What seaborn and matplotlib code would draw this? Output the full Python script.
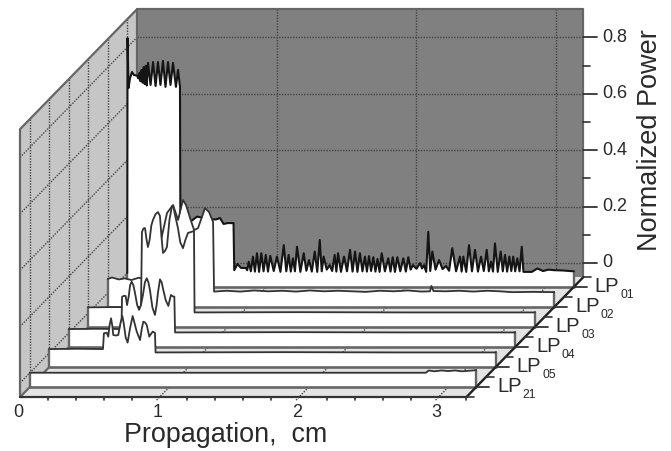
"""Waterfall chart of normalized mode power along the propagation length."""

import matplotlib
matplotlib.use("Agg")
import matplotlib.pyplot as plt
import numpy as np
import pandas as pd
import seaborn as sns

sns.set_style("white")
plt.rcParams["font.family"] = ["Liberation Sans", "DejaVu Sans"]

# data, back row first
modes = ["01", "02", "03", "04", "05", "21"]
mode_depths = [5.5, 4.5, 3.5, 2.5, 1.5, 0.5]

lp01_cm = [0.0, 0.002, 0.009, 0.02, 0.034, 0.048, 0.07, 0.08, 0.088, 0.095, 0.103, 0.11, 0.118,
           0.125, 0.133, 0.14,
           0.149, 0.167, 0.185, 0.203, 0.22, 0.238, 0.256, 0.274, 0.292, 0.31,
           0.328, 0.349, 0.364, 0.378, 0.381, 0.42, 0.5, 0.6, 0.636, 0.665, 0.69, 0.72, 0.762,
           0.767, 0.79, 0.815, 0.85, 0.86,
           0.871, 0.886, 0.901, 0.915, 0.93, 0.945, 0.961, 0.977, 0.993, 1.009, 1.025, 1.05,
           1.073, 1.098, 1.122, 1.14, 1.157, 1.172, 1.188, 1.202, 1.217, 1.241, 1.265, 1.284,
           1.303, 1.323, 1.344, 1.362, 1.38, 1.394, 1.408, 1.43, 1.451, 1.469, 1.487, 1.499,
           1.511, 1.532, 1.554, 1.575, 1.597, 1.615, 1.633, 1.65, 1.668, 1.686, 1.704, 1.718,
           1.733, 1.748, 1.764, 1.779, 1.794, 1.809, 1.824, 1.847, 1.871, 1.887, 1.903, 1.919,
           1.936, 1.957, 1.979, 1.997, 2.015, 2.031, 2.048, 2.073, 2.099, 2.113, 2.127, 2.143,
           2.158, 2.172, 2.187, 2.21, 2.235, 2.26, 2.285, 2.307, 2.33, 2.357, 2.385, 2.397,
           2.409, 2.43, 2.45, 2.471, 2.493, 2.514, 2.536, 2.556, 2.577, 2.592, 2.608, 2.622,
           2.636, 2.656, 2.677, 2.692, 2.708, 2.723, 2.739, 2.753, 2.767, 2.781, 2.796, 2.812,
           2.828, 2.84, 2.9, 2.94, 2.98, 3.02, 3.06, 3.12, 3.2]
lp01_pw = [0.0, 0.833, 0.656, 0.691, 0.713, 0.702, 0.7, 0.69, 0.71, 0.68, 0.72, 0.675, 0.73,
           0.67, 0.735, 0.665,
           0.745, 0.667, 0.748, 0.663, 0.748, 0.667, 0.752, 0.66, 0.748, 0.667,
           0.745, 0.66, 0.72, 0.66, 0.15, 0.17, 0.2, 0.19, 0.19, 0.195, 0.174, 0.177, 0.177,
           0.01, 0.032, 0.018, 0.018, 0.01,
           0.04, 0.006, 0.058, 0.005, 0.07, 0.004, 0.07, 0.006, 0.064, 0.005, 0.061, 0.007,
           0.058, 0.004, 0.099, 0.006, 0.064, 0.005, 0.052, 0.006, 0.093, 0.004, 0.07, 0.008,
           0.046, 0.005, 0.076, 0.004, 0.117, 0.006, 0.058, 0.012, 0.028, 0.007, 0.064, 0.005,
           0.07, 0.004, 0.058, 0.006, 0.082, 0.005, 0.076, 0.004, 0.07, 0.006, 0.058, 0.005,
           0.06, 0.007, 0.056, 0.005, 0.05, 0.004, 0.07, 0.006, 0.052, 0.005, 0.056, 0.004,
           0.056, 0.006, 0.052, 0.005, 0.056, 0.012, 0.028, 0.015, 0.035, 0.016, 0.028, 0.004,
           0.146, 0.007, 0.076, 0.012, 0.046, 0.014, 0.025, 0.008, 0.088, 0.006, 0.058, 0.005,
           0.058, 0.004, 0.099, 0.006, 0.082, 0.005, 0.058, 0.007, 0.082, 0.006, 0.04, 0.005,
           0.105, 0.004, 0.076, 0.006, 0.064, 0.005, 0.058, 0.007, 0.058, 0.006, 0.052, 0.006,
           0.093, 0.004, 0.004, 0.016, 0.007, 0.012, 0.01, 0.009, 0.006]

lp02_cm = [0.0, 0.03, 0.08, 0.12, 0.17, 0.22, 0.27, 0.32, 0.36, 0.382, 0.425, 0.468, 0.504,
           0.539, 0.561, 0.59, 0.619, 0.647, 0.697, 0.726, 0.755, 0.762, 0.85, 0.95, 1.05,
           1.15, 1.25, 1.35, 1.45, 1.55, 1.65, 1.75, 1.85, 1.95, 2.05, 2.15, 2.25, 2.31,
           2.32, 2.335, 2.42, 2.52, 2.62, 2.72, 2.81, 2.9, 3.05, 3.2]
lp02_pw = [0.05, 0.055, 0.048, 0.052, 0.046, 0.054, 0.05, 0.047, 0.052, 0.188, 0.284, 0.312,
           0.259, 0.33, 0.312, 0.266, 0.223, 0.23, 0.301, 0.287, 0.252, 0.005, 0.008, 0.005,
           0.009, 0.006, 0.008, 0.005, 0.009, 0.006, 0.008, 0.006, 0.004, 0.008, 0.006, 0.009,
           0.005, 0.006, 0.025, 0.007, 0.006, 0.008, 0.005, 0.008, 0.006, 0.003, 0.004, 0.003]

lp03_cm = [0.0, 0.2, 0.378, 0.385, 0.396, 0.407, 0.418, 0.428, 0.44, 0.452, 0.464, 0.482, 0.5,
           0.514, 0.525, 0.536, 0.55, 0.564, 0.582, 0.6, 0.611, 0.622, 0.643, 0.66, 0.679,
           0.697, 0.715, 0.736, 0.758, 0.762, 1.5, 2.3, 3.2]
lp03_pw = [0.02, 0.021, 0.02, 0.287, 0.3, 0.301, 0.26, 0.234, 0.26, 0.31, 0.33, 0.35, 0.358,
           0.344, 0.27, 0.213, 0.22, 0.234, 0.33, 0.379, 0.375, 0.348, 0.301, 0.25, 0.23,
           0.26, 0.284, 0.287, 0.291, 0.002, 0.003, 0.002, 0.002]

lp04_cm = [0.0, 0.2, 0.378, 0.382, 0.395, 0.408, 0.418, 0.43, 0.44, 0.451, 0.463, 0.475, 0.49,
           0.504, 0.518, 0.532, 0.546, 0.559, 0.571, 0.582, 0.6, 0.618, 0.63, 0.64, 0.654,
           0.666, 0.678, 0.696, 0.714, 0.725, 0.733, 0.745, 0.757, 0.762, 1.6, 2.4, 3.2]
lp04_pw = [0.014, 0.015, 0.014, 0.128, 0.132, 0.131, 0.099, 0.13, 0.17, 0.182, 0.17, 0.142, 0.1,
           0.082, 0.1, 0.135, 0.18, 0.194, 0.18, 0.152, 0.09, 0.064, 0.1, 0.145, 0.19,
           0.18, 0.152, 0.115, 0.096, 0.12, 0.135, 0.13, 0.129, 0.002, 0.003, 0.002, 0.002]

lp05_cm = [0.0, 0.2, 0.385, 0.392, 0.412, 0.423, 0.433, 0.443, 0.451, 0.459, 0.477, 0.495, 0.51,
           0.524, 0.534, 0.548, 0.562, 0.58, 0.598, 0.612, 0.627, 0.651, 0.663, 0.674, 0.687,
           0.699, 0.717, 0.73, 0.742, 0.758, 0.762, 1.7, 2.5, 3.2]
lp05_pw = [0.014, 0.015, 0.014, 0.07, 0.072, 0.058, 0.1, 0.123, 0.1, 0.064, 0.062, 0.064, 0.105,
           0.131, 0.105, 0.055, 0.037, 0.09, 0.131, 0.105, 0.076, 0.046, 0.085, 0.111, 0.108,
           0.099, 0.058, 0.068, 0.076, 0.071, 0.002, 0.003, 0.002, 0.002]

lp21_cm = [0.0, 1.0, 2.0, 2.84, 2.86, 2.9, 2.95, 3.0, 3.05, 3.1, 3.2]
lp21_pw = [0.001, 0.001, 0.001, 0.001, 0.009, 0.006, 0.009, 0.007, 0.009, 0.006, 0.01]

mode_cm = [lp01_cm, lp02_cm, lp03_cm, lp04_cm, lp05_cm, lp21_cm]
mode_pw = [lp01_pw, lp02_pw, lp03_pw, lp04_pw, lp05_pw, lp21_pw]

power_ticks = [0, 0.2, 0.4, 0.6, 0.8]
power_minor = [0.1, 0.3, 0.5, 0.7]
cm_ticks = [0, 1, 2, 3]
cm_minor = [0.2, 0.4, 0.6, 0.8, 1.2, 1.4, 1.6, 1.8, 2.2, 2.4, 2.6, 2.8, 3.2]
depth_minor = [0, 1, 2, 3, 4, 5, 6]

# box and oblique projection
CM_MAX = 3.2
PW_MIN = -0.05
PW_MAX = 0.9
DEPTH_MAX = 6
DEPTH_CM = 19.5 / 139.5
DEPTH_PW = 20 / 282
TICK_X = 1 / 139.5
TICK_Y = 1 / 282

WALL = "#808080"
SIDE = "#c6c6c6"
FLOOR = "#e4e4e4"
EDGE = "#666666"
GRID = "#454545"
INK = "#333333"


def project(cm, pw, depth):
    return np.asarray(cm, float) + depth * DEPTH_CM, np.asarray(pw, float) + depth * DEPTH_PW


def segment(ax, cm, pw, depth, **kws):
    x, y = project(cm, pw, depth)
    ax.plot(x, y, **kws)


fig = plt.figure(figsize=(6.71, 4.51), dpi=100)
ax = fig.add_axes([0, 0, 1, 1])

# walls and floor
x, y = project([0, CM_MAX, CM_MAX, 0], [PW_MIN] * 2 + [PW_MAX] * 2, DEPTH_MAX)
ax.fill(x, y, color=WALL, lw=0, zorder=1)
sx = np.array([0, DEPTH_MAX, DEPTH_MAX, 0]) * DEPTH_CM
sy = np.array([PW_MIN, PW_MIN, PW_MAX, PW_MAX]) + np.array([0, DEPTH_MAX, DEPTH_MAX, 0]) * DEPTH_PW
ax.fill(sx, sy, color=SIDE, lw=0, zorder=1)
fx = np.array([0, CM_MAX, CM_MAX + DEPTH_MAX * DEPTH_CM, DEPTH_MAX * DEPTH_CM])
fy = PW_MIN + np.array([0, 0, DEPTH_MAX, DEPTH_MAX]) * DEPTH_PW
ax.fill(fx, fy, color=FLOOR, lw=0, zorder=1)

grid_kws = dict(color=GRID, lw=1.0, ls=(0, (1, 1)), zorder=2)
for p in power_ticks:
    segment(ax, [0, CM_MAX], [p, p], DEPTH_MAX, **grid_kws)
    ax.plot([0, DEPTH_MAX * DEPTH_CM], [p, p + DEPTH_MAX * DEPTH_PW], **grid_kws)
for c in cm_ticks[1:]:
    segment(ax, [c, c], [PW_MIN, PW_MAX], DEPTH_MAX, **grid_kws)
    ax.plot([c - 0.15 * DEPTH_CM, c + DEPTH_MAX * DEPTH_CM],
            [PW_MIN - 0.15 * DEPTH_PW, PW_MIN + DEPTH_MAX * DEPTH_PW], **grid_kws)
for d in mode_depths:
    ax.plot([d * DEPTH_CM] * 2, [PW_MIN + d * DEPTH_PW, PW_MAX + d * DEPTH_PW], **grid_kws)

# box outline
edge_kws = dict(color=EDGE, lw=1.6, zorder=3)
ax.plot(sx[[0, 3, 2, 1]], sy[[0, 3, 2, 1]], **edge_kws)
ax.plot([0, DEPTH_MAX * DEPTH_CM], [PW_MIN, PW_MIN + DEPTH_MAX * DEPTH_PW], **edge_kws)
segment(ax, [0, CM_MAX, CM_MAX], [PW_MAX, PW_MAX, PW_MIN], DEPTH_MAX, **edge_kws)

# ribbons, back to front
for i, (name, depth, cm, pw) in enumerate(zip(modes, mode_depths, mode_cm, mode_pw)):
    layer = 10 + 3 * i
    x, y = project(cm, pw, depth)
    bx, by = project([0, CM_MAX], [PW_MIN, PW_MIN], depth)
    ax.fill_between(x, by[0], y, color="white", lw=0, zorder=layer)
    ax.plot([x[0], x[0]], [by[0], y[0]], color=EDGE, lw=1.7, zorder=layer + 1)
    ax.plot([x[-1], x[-1]], [by[0], y[-1]], color=EDGE, lw=1.7, zorder=layer + 1)
    ax.plot(bx, by, color=EDGE, lw=1.9, zorder=layer + 1)
    df = pd.DataFrame({"x": x, "y": y})
    sns.lineplot(data=df, x="x", y="y", ax=ax, sort=False, estimator=None, legend=False,
                 color="#151515" if name == "01" else INK, lw=1.5 if name == "01" else 1.3,
                 zorder=layer + 2)

# axis lines and ticks
top = 40
ax.plot([0, CM_MAX], [PW_MIN, PW_MIN], color="#333333", lw=1.6, zorder=top)
ax.plot([CM_MAX, CM_MAX + DEPTH_MAX * DEPTH_CM], [PW_MIN, PW_MIN + DEPTH_MAX * DEPTH_PW],
        color="#222222", lw=1.7, zorder=top)
for c in cm_minor:
    ax.plot([c, c], [PW_MIN, PW_MIN - 2.5 * TICK_Y], color="#333333", lw=1.2, zorder=top)
for d in depth_minor:
    x0, y0 = project(CM_MAX, PW_MIN, d)
    ax.plot([x0, x0 + 8 * TICK_X], [y0, y0], color="#333333", lw=1.2, zorder=top)
for d, name in zip(mode_depths, modes):
    x0, y0 = project(CM_MAX, PW_MIN, d)
    ax.plot([x0, x0 + 13 * TICK_X], [y0, y0], color="#333333", lw=1.3, zorder=top)
    ax.text(x0 + 21 * TICK_X, y0 + 0.5 * TICK_Y, "LP", fontsize=14.5, color="#2a2a2a",
            ha="left", va="center", zorder=top)
    ax.text(x0 + 46.5 * TICK_X, y0 - 8 * TICK_Y, name, fontsize=8.8, color="#2a2a2a",
            ha="left", va="center", zorder=top)
for p in power_ticks:
    x0, y0 = project(CM_MAX, p, DEPTH_MAX)
    ax.plot([x0, x0 + 14 * TICK_X], [y0, y0], color="#333333", lw=1.3, zorder=top)
    ax.text(x0 + 19 * TICK_X, y0, f"{p:g}", fontsize=13, color="#2a2a2a", ha="left",
            va="center", zorder=top)
for p in power_minor:
    x0, y0 = project(CM_MAX, p, DEPTH_MAX)
    ax.plot([x0, x0 + 7 * TICK_X], [y0, y0], color="#333333", lw=1.2, zorder=top)
for c in cm_ticks:
    ax.text(c - 2 * TICK_X, PW_MIN - 15 * TICK_Y, str(c), fontsize=13, color="#2a2a2a",
            ha="center", va="center", zorder=top)

ax.text(206 * TICK_X, PW_MIN - 38 * TICK_Y, "Propagation,  cm", fontsize=19.4,
        color="#2a2a2a", ha="center", va="center")
ax.text(630 * TICK_X, 243 * TICK_Y, "Normalized Power", fontsize=19.5,
        color="#2a2a2a", rotation=90, ha="center", va="center")

ax.set_xlim(-20 * TICK_X, 651 * TICK_X)
ax.set_ylim(-68 * TICK_Y, 383 * TICK_Y)
ax.set_axis_off()

fig.savefig("out.png", dpi=100)
